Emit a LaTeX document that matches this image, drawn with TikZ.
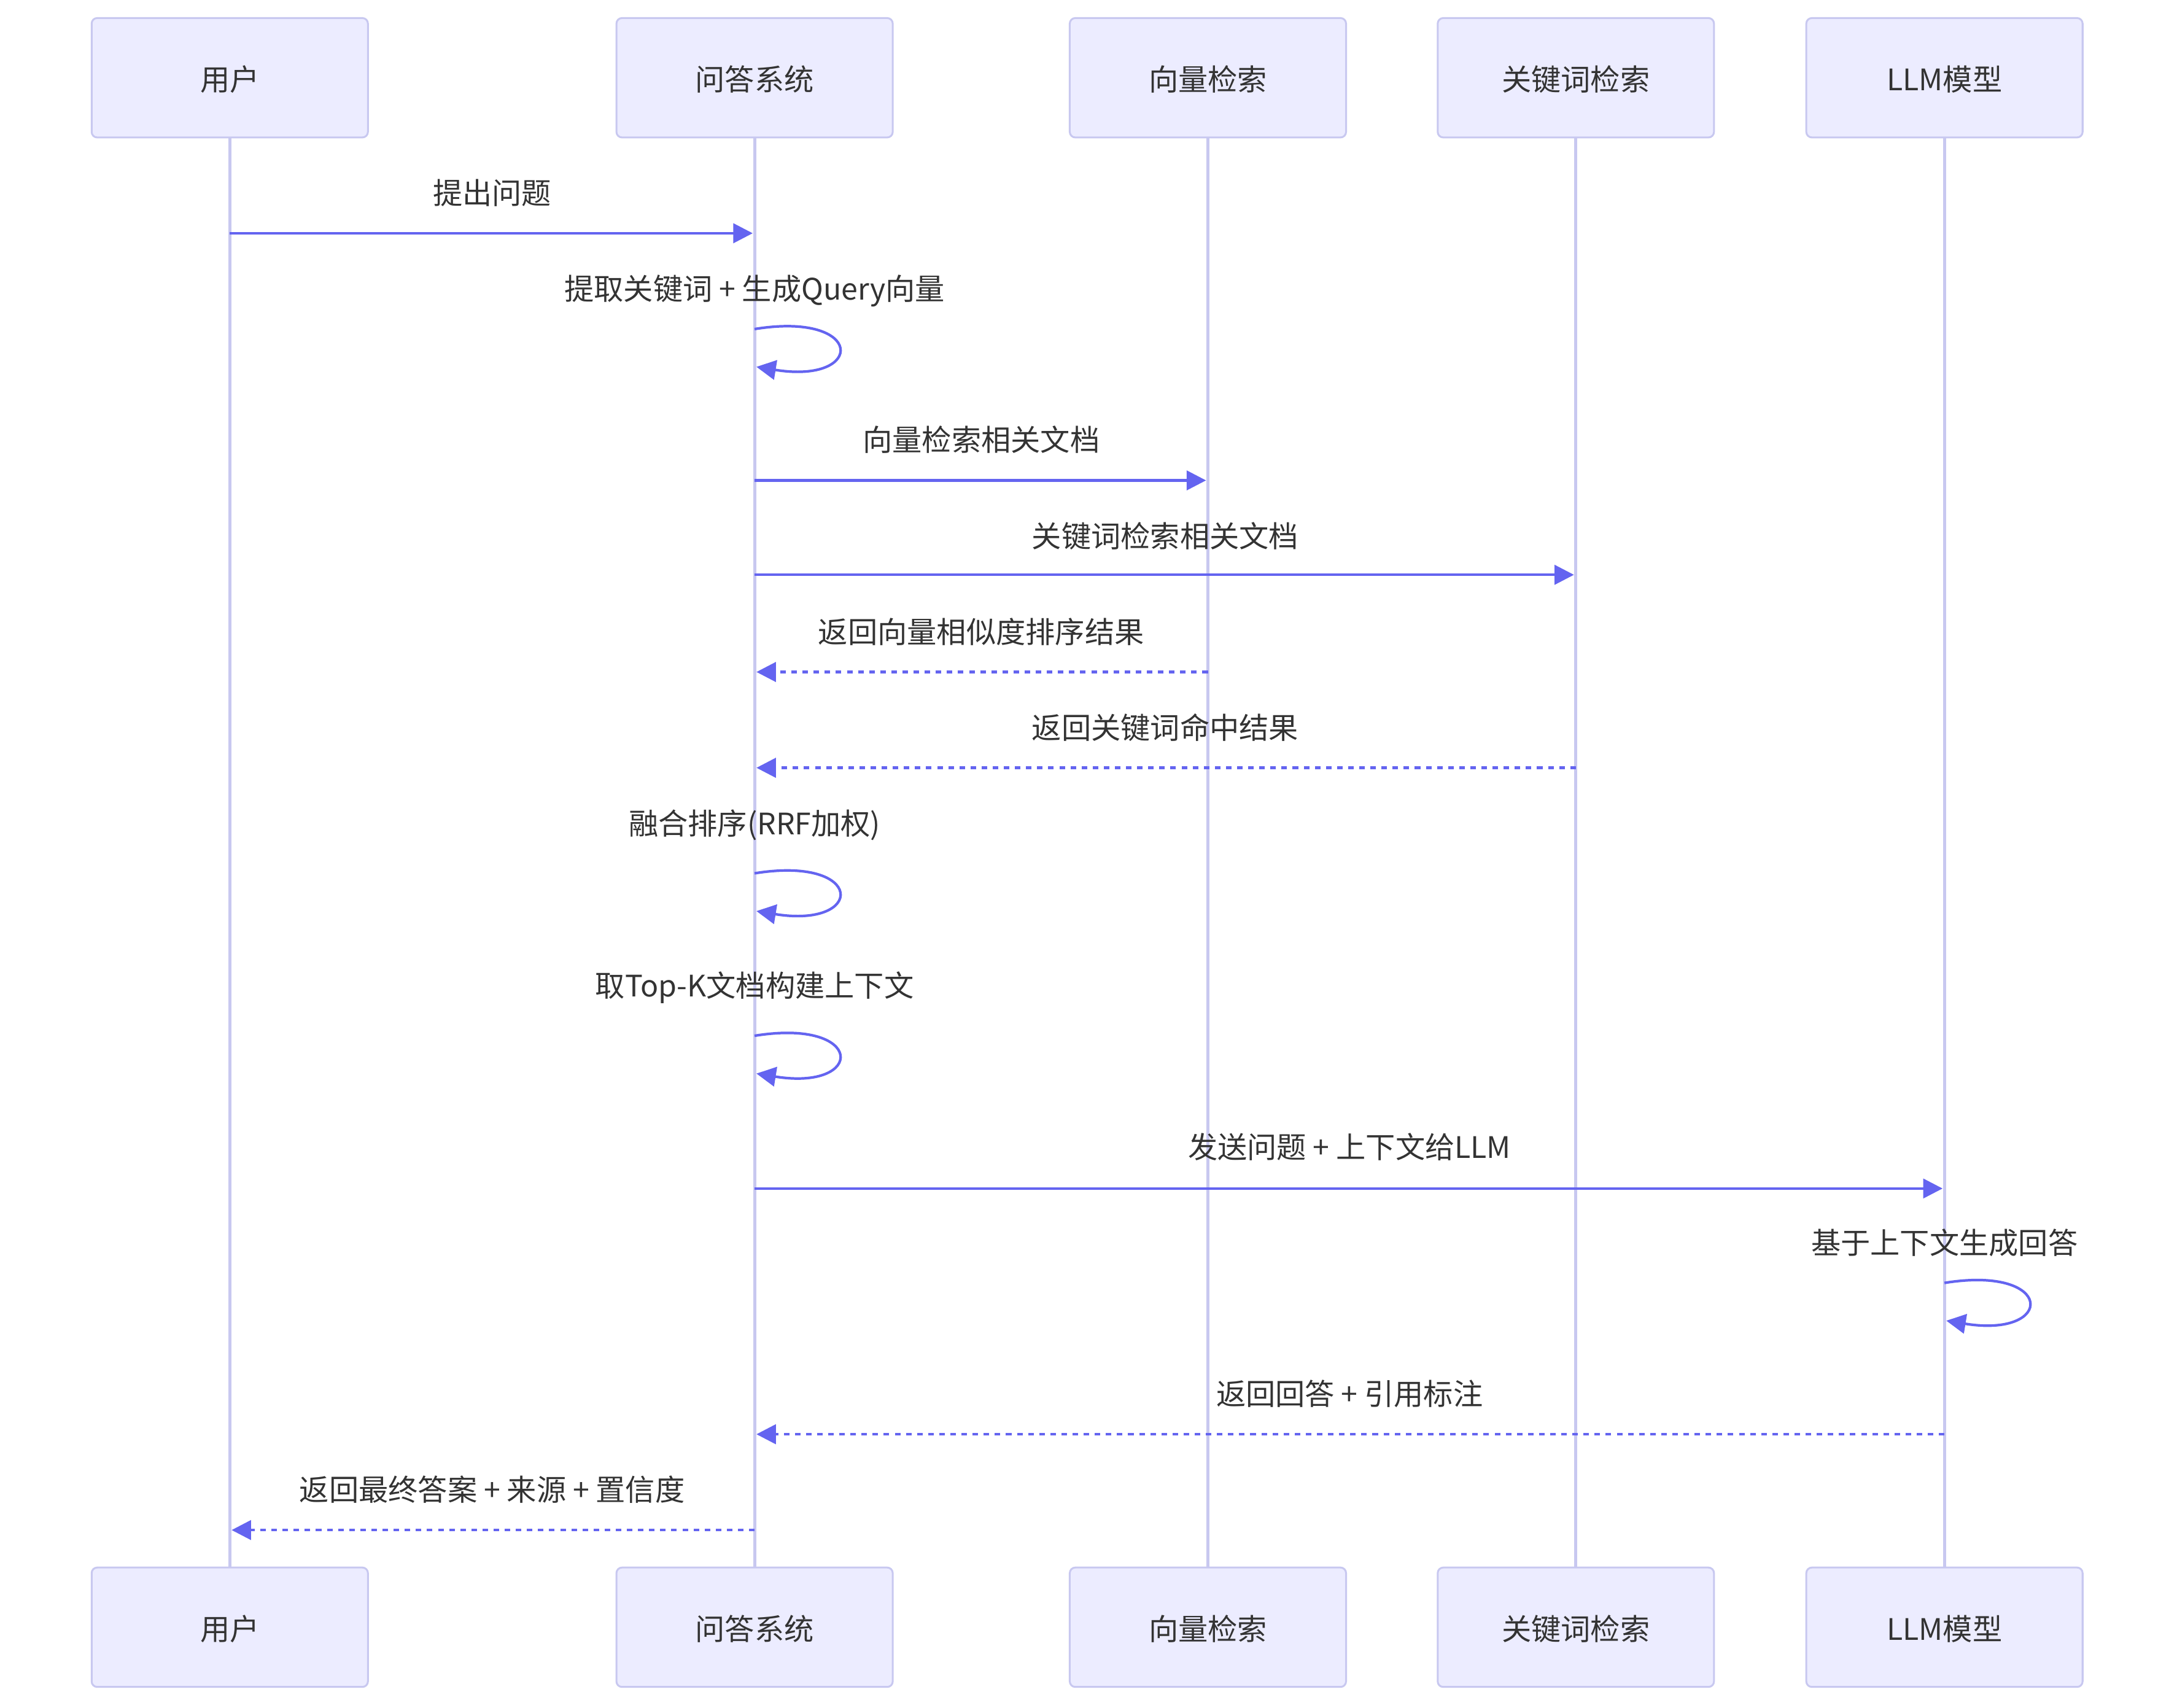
\documentclass[tikz,border=0pt]{standalone}
\usepackage{fontspec}
\setmainfont{Noto Sans CJK SC}
\usepackage[]{xcolor}
\usetikzlibrary{arrows.meta}
\definecolor{actorfill}{HTML}{ECECFF}
\definecolor{actorline}{HTML}{C8C8F0}
\definecolor{signal}{HTML}{6464F0}
\definecolor{txt}{HTML}{333333}

\begin{document}
\begin{tikzpicture}[x = 0.75pt, y = -0.75pt,
  actor/.style = {draw = actorline, fill = actorfill, line width = 1pt, rounded corners = 3pt,
    minimum width = 149.25pt, minimum height = 64.5pt, text = txt,
    font = \fontsize{16}{19}\selectfont, text height = 15pt, text depth = 1pt},
  life/.style = {draw = actorline, line width = 1.6pt},
  msg/.style = {draw = signal, line width = 1.4pt, -{Triangle[length = 10.5pt, width = 10.5pt]}, shorten > = 1pt},
  reply/.style = {msg, dash pattern = on 3pt off 3pt},
  lbl/.style = {text = txt, inner sep = 0pt, font = \fontsize{16}{19}\selectfont, text height = 13.5pt, text depth = 0pt}]
\useasboundingbox (0,0) rectangle (1568,1230);
% participants, top and bottom
\node [actor] (user) at (165.5, 56) {用户};
\node [actor] (qa) at (543.5, 56) {问答系统};
\node [actor] (vec) at (870, 56) {向量检索};
\node [actor] (kw) at (1135, 56) {关键词检索};
\node [actor] (llm) at (1400.5, 56) {LLM模型};
\node [actor] (userB) at (165.5, 1172) {用户};
\node [actor] (qaB) at (543.5, 1172) {问答系统};
\node [actor] (vecB) at (870, 1172) {向量检索};
\node [actor] (kwB) at (1135, 1172) {关键词检索};
\node [actor] (llmB) at (1400.5, 1172) {LLM模型};
\draw [life] (user) -- (userB);
\draw [life] (qa) -- (qaB);
\draw [life] (vec) -- (vecB);
\draw [life] (kw) -- (kwB);
\draw [life] (llm) -- (llmB);
% messages
\node [lbl] (m1) at (354.5, 138) {提出问题};
\draw [msg] (user |- 0,168) -- (qa |- 0,168);
\node [lbl] (m2) at (543.5, 207) {提取关键词 + 生成Query向量};
\draw [msg] (qa |- 0,237) .. controls (623.5,224) and (623.5,277) .. (qa |- 0,264);
\node [lbl] (m3) at (706.75, 316) {向量检索相关文档};
\draw [msg] (qa |- 0,346) -- (vec |- 0,346);
\node [lbl] (m4) at (839.25, 385) {关键词检索相关文档};
\draw [msg] (qa |- 0,414) -- (kw |- 0,414);
\node [lbl] (m5) at (706.75, 454) {返回向量相似度排序结果};
\draw [reply] (vec |- 0,484) -- (qa |- 0,484);
\node [lbl] (m6) at (839.25, 523) {返回关键词命中结果};
\draw [reply] (kw |- 0,553) -- (qa |- 0,553);
\node [lbl] (m7) at (543.5, 592) {融合排序(RRF加权)};
\draw [msg] (qa |- 0,629) .. controls (623.5,616) and (623.5,669) .. (qa |- 0,656);
\node [lbl] (m8) at (543.5, 709) {取Top-K文档构建上下文};
\draw [msg] (qa |- 0,746) .. controls (623.5,733) and (623.5,786) .. (qa |- 0,773);
\node [lbl] (m9) at (972, 825) {发送问题 + 上下文给LLM};
\draw [msg] (qa |- 0,856) -- (llm |- 0,856);
\node [lbl] (m10) at (1400.5, 894) {基于上下文生成回答};
\draw [msg] (llm |- 0,924) .. controls (1480.5,911) and (1480.5,964) .. (llm |- 0,951);
\node [lbl] (m11) at (972, 1003) {返回回答 + 引用标注};
\draw [reply] (llm |- 0,1033) -- (qa |- 0,1033);
\node [lbl] (m12) at (354.5, 1072) {返回最终答案 + 来源 + 置信度};
\draw [reply] (qa |- 0,1102) -- (user |- 0,1102);
\end{tikzpicture}
\end{document}
